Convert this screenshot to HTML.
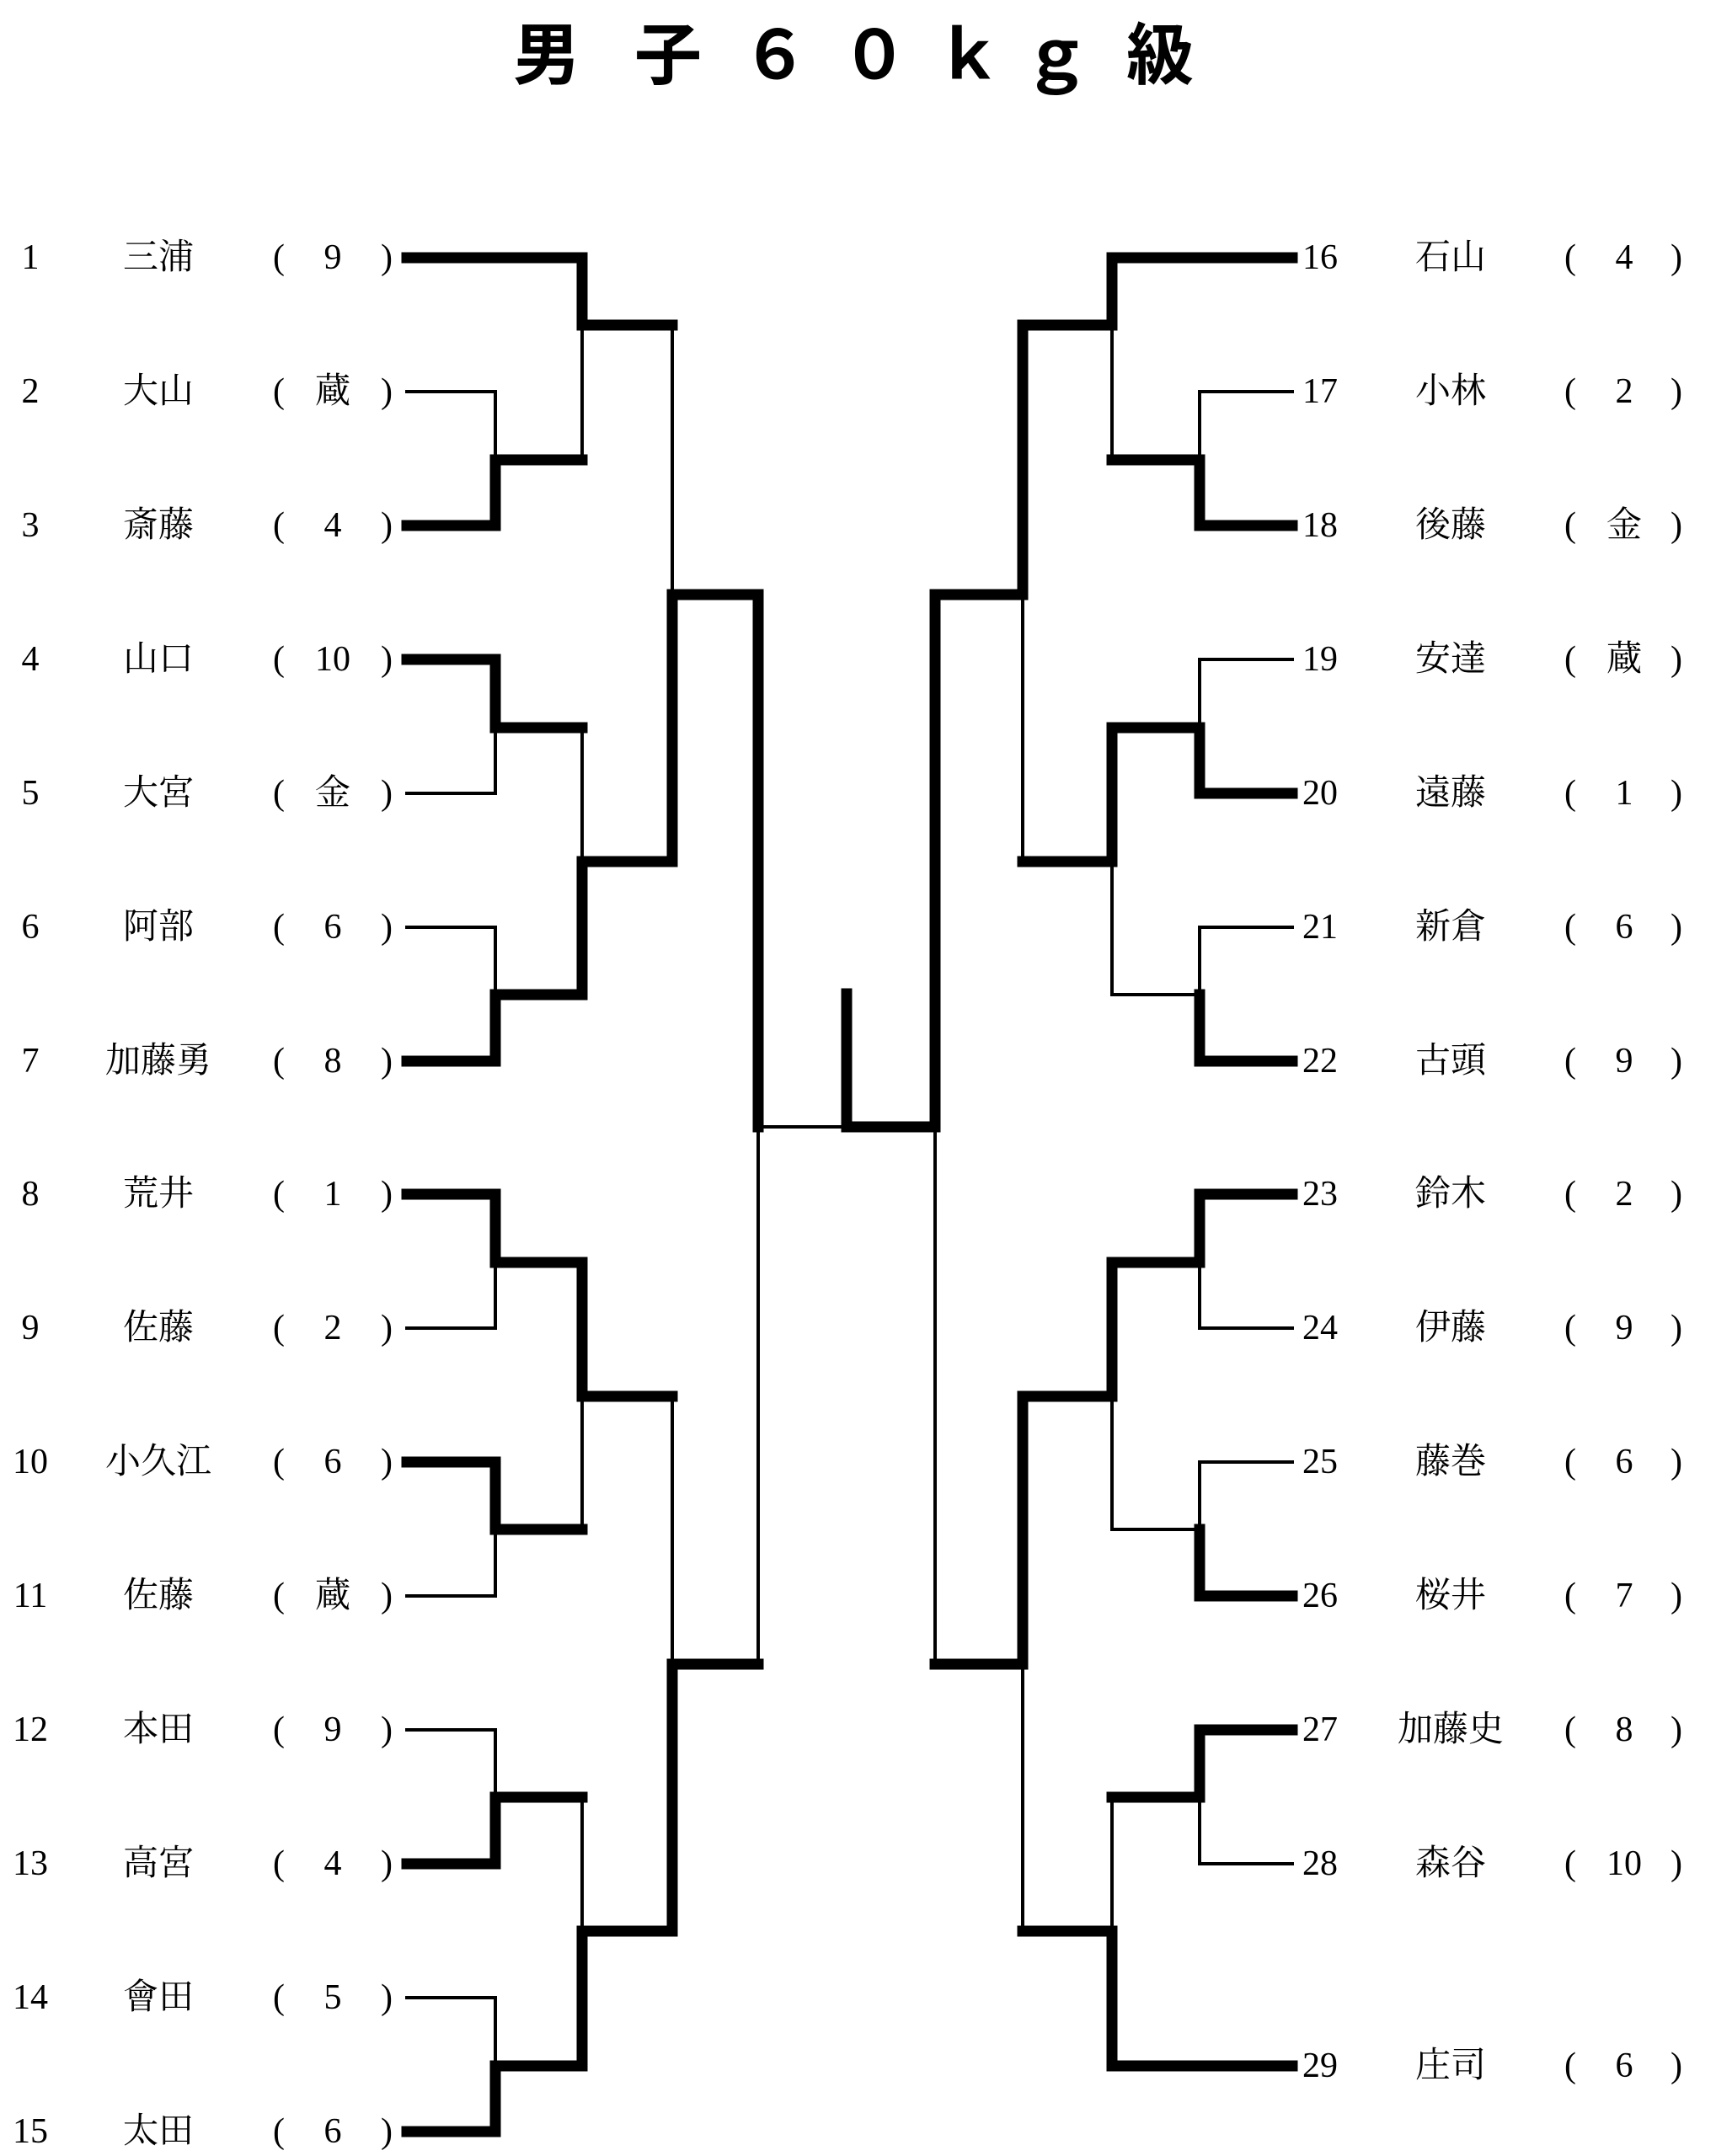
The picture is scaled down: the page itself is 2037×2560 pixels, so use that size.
<!DOCTYPE html>
<html><head><meta charset="utf-8"><style>
html,body{margin:0;padding:0;background:#fff;}
svg{display:block}
.T{stroke:#000;stroke-width:13;fill:none;stroke-linecap:square;stroke-linejoin:miter}
.t{stroke:#000;stroke-width:4;fill:none;stroke-linecap:square}
text{font-family:"Liberation Serif","Noto Serif CJK JP",serif;font-size:42px;fill:#000;text-anchor:middle;dominant-baseline:central}
.ti{font-family:"Liberation Sans","Noto Sans CJK JP",sans-serif;font-weight:bold;font-size:80px}
</style></head><body>
<svg width="2037" height="2560" viewBox="0 0 2037 2560" xmlns="http://www.w3.org/2000/svg">
<g class="ti">
<text class="ti" x="649" y="66">男</text><text class="ti" x="793" y="66">子</text><text class="ti" x="920" y="66">６</text><text class="ti" x="1038" y="66">０</text><text class="ti" x="1150" y="66">ｋ</text><text class="ti" x="1254" y="66">ｇ</text><text class="ti" x="1377" y="66">級</text>
</g>
<!-- left -->
<polyline class="T" points="483,306 691,306 691,386 798,386"/>
<line class="t" x1="798" y1="386" x2="798" y2="706"/>
<polyline class="t" points="483,465 588,465 588,546"/>
<line class="t" x1="691" y1="386" x2="691" y2="546"/>
<polyline class="T" points="483,624 588,624 588,546 691,546"/>
<polyline class="T" points="900,706 798,706 798,1023"/>
<polyline class="T" points="483,783 588,783 588,864 691,864"/>
<polyline class="t" points="483,942 588,942 588,864"/>
<line class="t" x1="691" y1="864" x2="691" y2="1023"/>
<polyline class="T" points="798,1023 691,1023 691,1181 588,1181"/>
<polyline class="t" points="483,1101 588,1101 588,1181"/>
<polyline class="T" points="588,1181 588,1260 483,1260"/>
<line class="T" x1="900" y1="706" x2="900" y2="1338"/>
<line class="t" x1="900" y1="1338" x2="998" y2="1338"/>
<line class="t" x1="900" y1="1338" x2="900" y2="1976"/>
<polyline class="T" points="483,1418 588,1418 588,1499 691,1499"/>
<polyline class="t" points="483,1577 588,1577 588,1499"/>
<polyline class="T" points="483,1736 588,1736 588,1816 691,1816"/>
<polyline class="t" points="483,1895 588,1895 588,1816"/>
<polyline class="T" points="691,1499 691,1658 798,1658"/>
<line class="t" x1="691" y1="1658" x2="691" y2="1816"/>
<line class="t" x1="798" y1="1658" x2="798" y2="1976"/>
<polyline class="t" points="483,2054 588,2054 588,2134"/>
<polyline class="T" points="483,2213 588,2213 588,2134 691,2134"/>
<polyline class="t" points="483,2372 588,2372 588,2453"/>
<polyline class="T" points="483,2531 588,2531 588,2453 691,2453"/>
<line class="t" x1="691" y1="2134" x2="691" y2="2293"/>
<polyline class="T" points="691,2453 691,2293 798,2293 798,1976 900,1976"/>
<!-- final -->
<polyline class="T" points="1005,1180 1005,1338 1110,1338 1110,706"/>
<line class="t" x1="1110" y1="1338" x2="1110" y2="1976"/>
<!-- right -->
<polyline class="T" points="1534,306 1320,306 1320,386 1214,386 1214,706 1110,706"/>
<line class="t" x1="1320" y1="386" x2="1320" y2="546"/>
<polyline class="t" points="1534,465 1424,465 1424,546"/>
<polyline class="T" points="1534,624 1424,624 1424,546 1320,546"/>
<line class="t" x1="1214" y1="706" x2="1214" y2="1023"/>
<polyline class="t" points="1534,783 1424,783 1424,864"/>
<polyline class="T" points="1534,942 1424,942 1424,864 1320,864 1320,1023 1214,1023"/>
<polyline class="t" points="1534,1101 1424,1101 1424,1181 1320,1181 1320,1023"/>
<polyline class="T" points="1534,1260 1424,1260 1424,1181"/>
<polyline class="T" points="1534,1418 1424,1418 1424,1499 1320,1499 1320,1658 1214,1658 1214,1976 1110,1976"/>
<polyline class="t" points="1534,1577 1424,1577 1424,1499"/>
<polyline class="t" points="1534,1736 1424,1736 1424,1816 1320,1816 1320,1658"/>
<polyline class="T" points="1534,1895 1424,1895 1424,1816"/>
<line class="t" x1="1214" y1="1976" x2="1214" y2="2293"/>
<polyline class="T" points="1534,2054 1424,2054 1424,2134 1320,2134"/>
<polyline class="t" points="1534,2213 1424,2213 1424,2134"/>
<line class="t" x1="1320" y1="2134" x2="1320" y2="2293"/>
<polyline class="T" points="1534,2453 1320,2453 1320,2293 1214,2293"/>
<!-- left labels -->
<g>
<text x="36" y="306">1</text><text x="188" y="306">三浦</text><text x="331" y="306">(</text><text x="395" y="306">9</text><text x="459" y="306">)</text>
<text x="36" y="465">2</text><text x="188" y="465">大山</text><text x="331" y="465">(</text><text x="395" y="465">蔵</text><text x="459" y="465">)</text>
<text x="36" y="624">3</text><text x="188" y="624">斎藤</text><text x="331" y="624">(</text><text x="395" y="624">4</text><text x="459" y="624">)</text>
<text x="36" y="783">4</text><text x="188" y="783">山口</text><text x="331" y="783">(</text><text x="395" y="783">10</text><text x="459" y="783">)</text>
<text x="36" y="942">5</text><text x="188" y="942">大宮</text><text x="331" y="942">(</text><text x="395" y="942">金</text><text x="459" y="942">)</text>
<text x="36" y="1101">6</text><text x="188" y="1101">阿部</text><text x="331" y="1101">(</text><text x="395" y="1101">6</text><text x="459" y="1101">)</text>
<text x="36" y="1260">7</text><text x="188" y="1260">加藤勇</text><text x="331" y="1260">(</text><text x="395" y="1260">8</text><text x="459" y="1260">)</text>
<text x="36" y="1418">8</text><text x="188" y="1418">荒井</text><text x="331" y="1418">(</text><text x="395" y="1418">1</text><text x="459" y="1418">)</text>
<text x="36" y="1577">9</text><text x="188" y="1577">佐藤</text><text x="331" y="1577">(</text><text x="395" y="1577">2</text><text x="459" y="1577">)</text>
<text x="36" y="1736">10</text><text x="188" y="1736">小久江</text><text x="331" y="1736">(</text><text x="395" y="1736">6</text><text x="459" y="1736">)</text>
<text x="36" y="1895">11</text><text x="188" y="1895">佐藤</text><text x="331" y="1895">(</text><text x="395" y="1895">蔵</text><text x="459" y="1895">)</text>
<text x="36" y="2054">12</text><text x="188" y="2054">本田</text><text x="331" y="2054">(</text><text x="395" y="2054">9</text><text x="459" y="2054">)</text>
<text x="36" y="2213">13</text><text x="188" y="2213">高宮</text><text x="331" y="2213">(</text><text x="395" y="2213">4</text><text x="459" y="2213">)</text>
<text x="36" y="2372">14</text><text x="188" y="2372">會田</text><text x="331" y="2372">(</text><text x="395" y="2372">5</text><text x="459" y="2372">)</text>
<text x="36" y="2531">15</text><text x="188" y="2531">太田</text><text x="331" y="2531">(</text><text x="395" y="2531">6</text><text x="459" y="2531">)</text>
</g>
<!-- right labels -->
<g>
<text x="1567" y="306">16</text><text x="1722" y="306">石山</text><text x="1864" y="306">(</text><text x="1928" y="306">4</text><text x="1990" y="306">)</text>
<text x="1567" y="465">17</text><text x="1722" y="465">小林</text><text x="1864" y="465">(</text><text x="1928" y="465">2</text><text x="1990" y="465">)</text>
<text x="1567" y="624">18</text><text x="1722" y="624">後藤</text><text x="1864" y="624">(</text><text x="1928" y="624">金</text><text x="1990" y="624">)</text>
<text x="1567" y="783">19</text><text x="1722" y="783">安達</text><text x="1864" y="783">(</text><text x="1928" y="783">蔵</text><text x="1990" y="783">)</text>
<text x="1567" y="942">20</text><text x="1722" y="942">遠藤</text><text x="1864" y="942">(</text><text x="1928" y="942">1</text><text x="1990" y="942">)</text>
<text x="1567" y="1101">21</text><text x="1722" y="1101">新倉</text><text x="1864" y="1101">(</text><text x="1928" y="1101">6</text><text x="1990" y="1101">)</text>
<text x="1567" y="1260">22</text><text x="1722" y="1260">古頭</text><text x="1864" y="1260">(</text><text x="1928" y="1260">9</text><text x="1990" y="1260">)</text>
<text x="1567" y="1418">23</text><text x="1722" y="1418">鈴木</text><text x="1864" y="1418">(</text><text x="1928" y="1418">2</text><text x="1990" y="1418">)</text>
<text x="1567" y="1577">24</text><text x="1722" y="1577">伊藤</text><text x="1864" y="1577">(</text><text x="1928" y="1577">9</text><text x="1990" y="1577">)</text>
<text x="1567" y="1736">25</text><text x="1722" y="1736">藤巻</text><text x="1864" y="1736">(</text><text x="1928" y="1736">6</text><text x="1990" y="1736">)</text>
<text x="1567" y="1895">26</text><text x="1722" y="1895">桜井</text><text x="1864" y="1895">(</text><text x="1928" y="1895">7</text><text x="1990" y="1895">)</text>
<text x="1567" y="2054">27</text><text x="1722" y="2054">加藤史</text><text x="1864" y="2054">(</text><text x="1928" y="2054">8</text><text x="1990" y="2054">)</text>
<text x="1567" y="2213">28</text><text x="1722" y="2213">森谷</text><text x="1864" y="2213">(</text><text x="1928" y="2213">10</text><text x="1990" y="2213">)</text>
<text x="1567" y="2453">29</text><text x="1722" y="2453">庄司</text><text x="1864" y="2453">(</text><text x="1928" y="2453">6</text><text x="1990" y="2453">)</text>
</g>
</svg>
</body></html>
